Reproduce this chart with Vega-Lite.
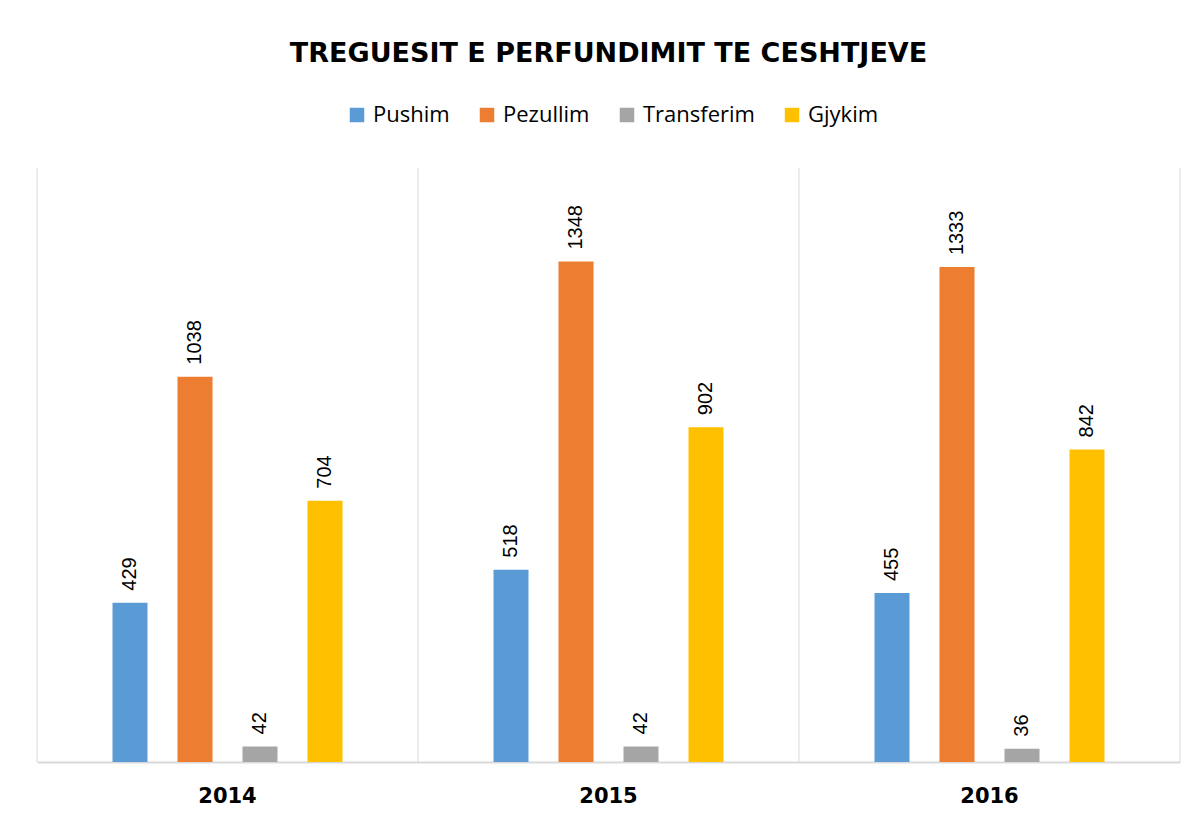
{
  "$schema": "https://vega.github.io/schema/vega-lite/v6.json",
  "width": 1143,
  "height": 594,
  "autosize": {"type": "none"},
  "padding": {"left": 37, "top": 168, "right": 18, "bottom": 54},
  "background": "white",
  "title": {
    "text": "TREGUESIT E PERFUNDIMIT TE CESHTJEVE",
    "font": "DejaVu Sans",
    "fontSize": 27,
    "fontWeight": "bold",
    "color": "#000000",
    "anchor": "middle",
    "offset": 36
  },
  "datasets": {
    "bars": [
      {"year": "2014", "type": "Pushim", "value": 429},
      {"year": "2014", "type": "Pezullim", "value": 1038},
      {"year": "2014", "type": "Transferim", "value": 42},
      {"year": "2014", "type": "Gjykim", "value": 704},
      {"year": "2015", "type": "Pushim", "value": 518},
      {"year": "2015", "type": "Pezullim", "value": 1348},
      {"year": "2015", "type": "Transferim", "value": 42},
      {"year": "2015", "type": "Gjykim", "value": 902},
      {"year": "2016", "type": "Pushim", "value": 455},
      {"year": "2016", "type": "Pezullim", "value": 1333},
      {"year": "2016", "type": "Transferim", "value": 36},
      {"year": "2016", "type": "Gjykim", "value": 842}
    ],
    "years": [{"year": "2014"}, {"year": "2015"}, {"year": "2016"}],
    "lastyear": [{"year": "2016"}]
  },
  "layer": [
    {
      "data": {"name": "years"},
      "mark": {"type": "rule", "color": "#d9d9d9", "strokeWidth": 1},
      "encoding": {
        "x": {"field": "year", "type": "nominal", "bandPosition": 0}
      }
    },
    {
      "data": {"name": "lastyear"},
      "mark": {"type": "rule", "color": "#d9d9d9", "strokeWidth": 1},
      "encoding": {
        "x": {"field": "year", "type": "nominal", "bandPosition": 1}
      }
    },
    {
      "data": {"name": "bars"},
      "mark": {"type": "bar", "width": 35},
      "encoding": {
        "x": {
          "field": "year",
          "type": "nominal",
          "scale": {"paddingInner": 0, "paddingOuter": 0},
          "axis": {
            "title": null,
            "labelAngle": 0,
            "labelAlign": "center",
            "labelBaseline": "top",
            "labelFont": "DejaVu Sans",
            "labelFontSize": 21,
            "labelFontWeight": "bold",
            "labelColor": "#000000",
            "labelPadding": 23,
            "ticks": false,
            "grid": false,
            "domainColor": "#d9d9d9",
            "domainWidth": 2
          }
        },
        "xOffset": {
          "field": "type",
          "type": "nominal",
          "sort": ["Pushim", "Pezullim", "Transferim", "Gjykim"],
          "scale": {"paddingInner": 0.138, "paddingOuter": 1}
        },
        "y": {
          "field": "value",
          "type": "quantitative",
          "scale": {"domain": [0, 1600]},
          "axis": null
        },
        "color": {
          "field": "type",
          "type": "nominal",
          "sort": ["Pushim", "Pezullim", "Transferim", "Gjykim"],
          "scale": {
            "domain": ["Pushim", "Pezullim", "Transferim", "Gjykim"],
            "range": ["#5B9BD5", "#ED7D31", "#A5A5A5", "#FFC000"]
          },
          "legend": {
            "title": null,
            "orient": "none",
            "direction": "horizontal",
            "legendX": 309,
            "legendY": -64,
            "symbolType": "square",
            "symbolSize": 210,
            "symbolStrokeWidth": 0,
            "labelFont": "Open Sans",
            "labelFontSize": 22,
            "labelColor": "#000000",
            "labelOffset": 5,
            "columnPadding": 26
          }
        }
      }
    },
    {
      "data": {"name": "bars"},
      "mark": {
        "type": "text",
        "angle": 270,
        "align": "left",
        "baseline": "middle",
        "dx": 12,
        "font": "Liberation Sans",
        "fontSize": 20,
        "color": "#000000"
      },
      "encoding": {
        "x": {"field": "year", "type": "nominal"},
        "xOffset": {
          "field": "type",
          "type": "nominal",
          "sort": ["Pushim", "Pezullim", "Transferim", "Gjykim"],
          "scale": {"paddingInner": 0.138, "paddingOuter": 1}
        },
        "y": {"field": "value", "type": "quantitative"},
        "text": {"field": "value", "type": "quantitative"}
      }
    }
  ],
  "config": {
    "view": {"stroke": null}
  }
}
